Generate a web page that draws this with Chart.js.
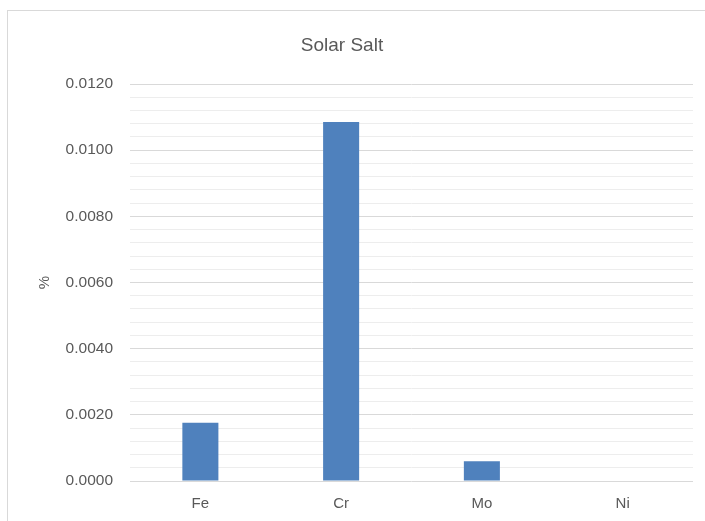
<!DOCTYPE html>
<html>
<head>
<meta charset="utf-8">
<script src="https://cdn.jsdelivr.net/npm/chart.js@4.4.1/dist/chart.umd.min.js"></script>
<style>
  html, body { margin: 0; padding: 0; background: #fff; }
  #wrap { position: relative; width: 705px; height: 521px; overflow: hidden; }
  #frame { position: absolute; left: 7px; top: 10px; width: 800px; height: 600px;
           border: 1px solid #d9d9d9; box-sizing: border-box; }
  #c { position: absolute; left: 0; top: 0; }
</style>
</head>
<body>
<div id="wrap">
  <div id="frame"></div>
  <canvas id="c" width="705" height="521"></canvas>
</div>
<script>
// Element concentrations measured in Solar Salt
const chartTitle = 'Solar Salt';
const elements = ['Fe', 'Cr', 'Mo', 'Ni'];
const percentValues = [0.00176, 0.01085, 0.0006, 0];
const yAxisLabel = '%';

const FONT = '"Liberation Sans", Arial, sans-serif';
const TEXT = '#595959';

// Title drawn centred over the chart frame
const titlePlugin = {
  id: 'frameTitle',
  afterDraw(chart) {
    const ctx = chart.ctx;
    ctx.save();
    ctx.font = '19px ' + FONT;
    ctx.fillStyle = TEXT;
    ctx.textAlign = 'center';
    ctx.textBaseline = 'middle';
    ctx.fillText(chartTitle, 342, 46);
    ctx.restore();
  }
};

new Chart(document.getElementById('c'), {
  type: 'bar',
  data: {
    labels: elements,
    datasets: [{
      data: percentValues,
      backgroundColor: '#4f81bd',
      borderWidth: 0,
      barPercentage: 0.256,
      categoryPercentage: 1
    }]
  },
  options: {
    responsive: false,
    animation: false,
    layout: { padding: { top: 84, right: 12, left: 0, bottom: 0 } },
    plugins: { legend: { display: false }, tooltip: { enabled: false } },
    scales: {
      x: {
        grid: { display: false, drawTicks: false },
        border: { display: false },
        ticks: { color: TEXT, font: { family: FONT, size: 15 }, padding: 14 },
        afterFit(scale) { scale.height = 40; }
      },
      y: {
        min: 0,
        max: 0.012,
        grid: {
          drawTicks: false,
          color: (ctx) => (ctx.index % 5 === 0 ? '#d9d9d9' : '#ededed'),
          lineWidth: 1
        },
        border: { display: false },
        ticks: {
          stepSize: 0.0004,
          autoSkip: false,
          padding: 17,
          color: TEXT,
          font: { family: FONT, size: 15.5 },
          callback: (value, index) => (index % 5 === 0 ? value.toFixed(4) : '')
        },
        title: {
          display: true,
          text: yAxisLabel,
          color: TEXT,
          font: { family: FONT, size: 15 },
          padding: { top: 36, bottom: 0 }
        },
        afterFit(scale) { scale.width = 130; }
      }
    }
  },
  plugins: [titlePlugin]
});
</script>
</body>
</html>
